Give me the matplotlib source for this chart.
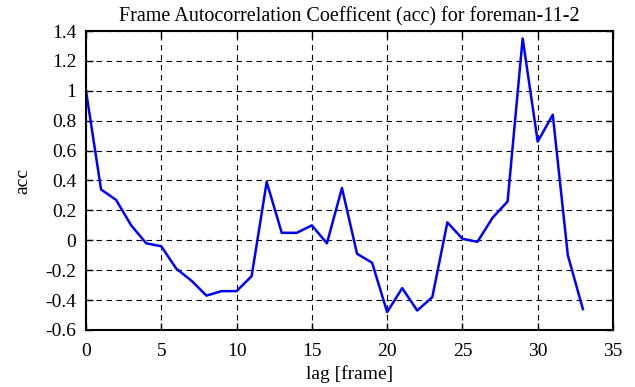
import matplotlib
matplotlib.use("Agg")
import matplotlib.pyplot as plt

lags = list(range(34))
acc = [1.0, 0.34, 0.27, 0.10, -0.02, -0.04, -0.19, -0.27, -0.37, -0.34, -0.34, -0.24,
       0.39, 0.05, 0.05, 0.10, -0.02, 0.35, -0.09, -0.15, -0.48, -0.32, -0.47, -0.38,
       0.12, 0.01, -0.01, 0.15, 0.26, 1.35, 0.66, 0.84, -0.10, -0.46]

plt.rcParams['font.family'] = ['Liberation Serif', 'DejaVu Serif']

fig = plt.figure(figsize=(6.35, 3.87), dpi=100)
ax = fig.add_axes([86/635, 57/387, 527/635, 299/387])
ax.plot(lags, acc, color='#0000ff', lw=1.8)
ax.set_xlim(0, 35)
ax.set_ylim(-0.6, 1.4)
ax.set_xticks(range(0, 36, 5))
yt = [-0.6, -0.4, -0.2, 0, 0.2, 0.4, 0.6, 0.8, 1, 1.2, 1.4]
ax.set_yticks(yt)
ax.set_yticklabels(['-0.6', '-0.4', '-0.2', '0', '0.2', '0.4', '0.6', '0.8', '1', '1.2', '1.4'])
ax.grid(True, color='black', linestyle=(0, (5, 4)), linewidth=0.8)
ax.tick_params(direction='in', top=True, right=True, length=5, width=1, labelsize=14)
ax.tick_params(axis='y', pad=7)
ax.tick_params(axis='x', pad=9)
for s in ax.spines.values():
    s.set_linewidth(1.5)
ax.set_xlabel('lag [frame]', fontsize=14, labelpad=4)
ax.set_ylabel('acc', fontsize=14, labelpad=10)
ax.set_title('Frame Autocorrelation Coefficent (acc) for foreman-11-2', fontsize=14.5, pad=7)
fig.savefig('out.png', dpi=100)
